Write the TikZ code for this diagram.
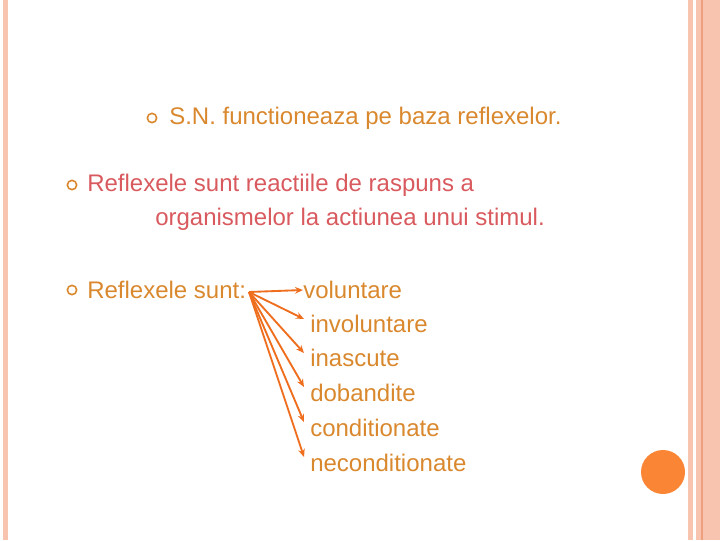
\documentclass[tikz,border=0pt]{standalone}
\usepackage{fontspec}
\setmainfont{Liberation Sans}
\usetikzlibrary{arrows.meta}
\definecolor{pinkb}{HTML}{F8C4B0}
\definecolor{pinkd}{HTML}{EE9F7E}
\definecolor{orng}{HTML}{D9882E}
\definecolor{redt}{HTML}{D95A5E}
\definecolor{arr}{HTML}{EE6E1E}
\definecolor{dot}{HTML}{FA8534}
\tikzset{txt/.style={anchor=west,inner sep=0pt,font=\fontsize{18}{21}\selectfont},
bul/.style={circle,draw=orng,line width=1.2pt,minimum size=7pt,inner sep=0pt},
ar/.style={draw=arr,line width=1.4pt,-{Stealth[length=6pt,width=5pt]}}}
\begin{document}
\begin{tikzpicture}[x=0.75pt,y=-0.75pt]
\useasboundingbox (0,0) rectangle (720,540);
\fill[pinkb] (3,0) rectangle (8,540);
\fill[pinkb] (688,0) rectangle (693,540);
\fill[pinkb] (696,0) rectangle (720,540);
\draw[pinkd,line width=0.8pt] (702,0) -- (702,540);
\node[bul] (b1) at (152,118) {};
\node[txt,text=orng] (t1) at (169,118) {S.N. functioneaza pe baza reflexelor.};
\node[bul] (b2) at (72,185) {};
\node[txt,text=redt] (t2) at (87,185) {Reflexele sunt reactiile de raspuns a};
\node[txt,text=redt] (t3) at (155,219) {organismelor la actiunea unui stimul.};
\node[bul] (b3) at (72,290) {};
\node[txt,text=orng] (t4) at (87,290) {Reflexele sunt:};
\coordinate (o) at (249,292);
\node[txt,text=orng] (l1) at (303,290) {voluntare};
\node[txt,text=orng] (l2) at (310,324) {involuntare};
\node[txt,text=orng] (l3) at (310,358) {inascute};
\node[txt,text=orng] (l4) at (310,393) {dobandite};
\node[txt,text=orng] (l5) at (310,428) {conditionate};
\node[txt,text=orng] (l6) at (310,463) {neconditionate};
\draw[ar] (o) -- (l1.west);
\draw[ar] (o) -- (304,319);
\draw[ar] (o) -- (304,353);
\draw[ar] (o) -- (304,387);
\draw[ar] (o) -- (304,422);
\draw[ar] (o) -- (304,457);
\fill[dot] (663,472) circle (22);
\end{tikzpicture}
\end{document}
